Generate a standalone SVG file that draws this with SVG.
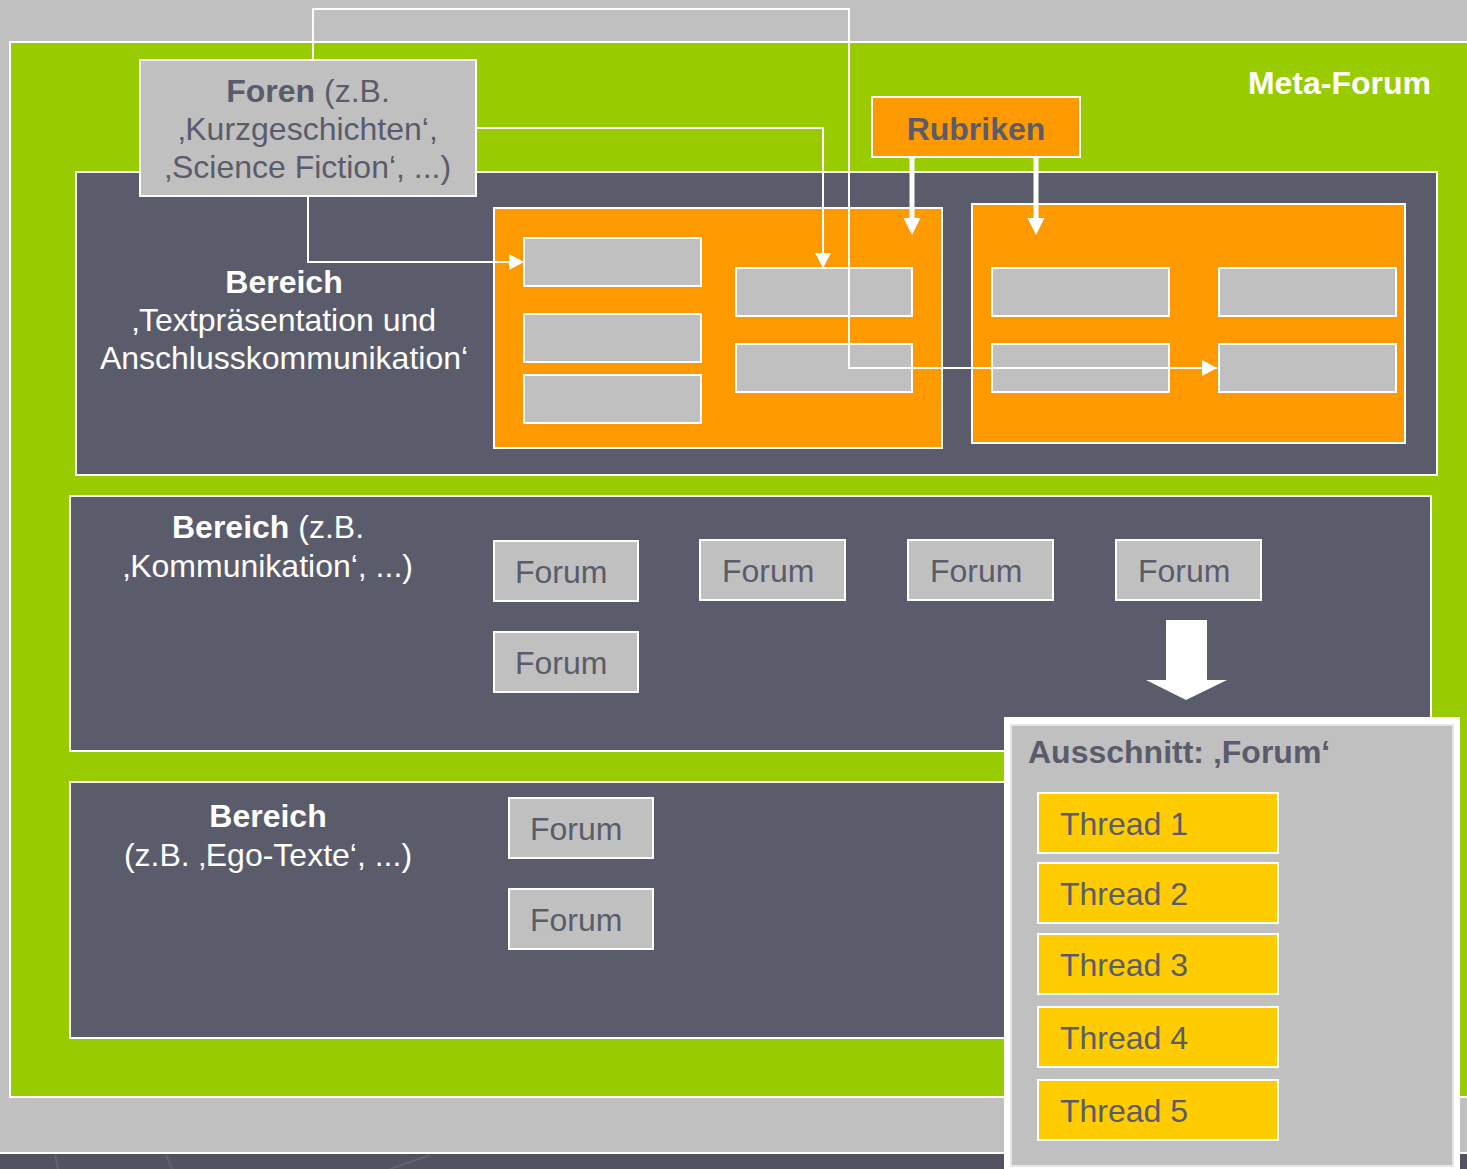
<svg xmlns="http://www.w3.org/2000/svg" width="1467" height="1169" viewBox="0 0 1467 1169">
<style>
.panel{fill:#5b5c6b;stroke:#fff;stroke-width:2}
.org{fill:#ff9900;stroke:#fff;stroke-width:2}
.gbox{fill:#c0c0c0;stroke:#fff;stroke-width:2}
.tbox{fill:#ffcc00;stroke:#fff;stroke-width:2}
.conn{fill:none;stroke:#fff;stroke-width:2}
text{font-family:"Liberation Sans",Arial,sans-serif;font-size:32px}
.dk{fill:#5b5c6b}
.wt{fill:#fff}
.b{font-weight:bold}
.c{text-anchor:middle}
</style>
<defs>
<marker id="ah" markerUnits="userSpaceOnUse" markerWidth="16" markerHeight="16" refX="15" refY="8" orient="auto">
<path d="M0,0 L15,8 L0,16 z" fill="#fff"/>
</marker>
</defs>
<rect x="0" y="0" width="1467" height="1169" fill="#c0c0c0"/>
<rect x="0" y="1153" width="1467" height="16" fill="#52535f"/>
<line x1="0" y1="1153" x2="1467" y2="1153" stroke="#fff" stroke-width="2"/>
<g stroke="#62636f" stroke-width="2" fill="none">
<path d="M55,1155 L58,1169"/>
<path d="M166,1155 L172,1169"/>
<path d="M390,1169 L430,1155"/>
</g>
<g id="meta-forum">
<rect x="10" y="42" width="1470" height="1055" fill="#99cc00" stroke="#fff" stroke-width="2"/>
<text x="1431" y="94" class="wt b" text-anchor="end">Meta-Forum</text>
</g>
<g id="bereich1">
<rect x="76" y="172" width="1361" height="303" class="panel"/>
<text x="284" y="293" class="wt b c">Bereich</text>
<text x="284" y="331" class="wt c">‚Textpräsentation und</text>
<text x="284" y="369" class="wt c">Anschlusskommunikation‘</text>
</g>
<g id="rubrik1">
<rect x="494" y="208" width="448" height="240" class="org"/>
<rect x="524" y="238" width="177" height="48" class="gbox"/>
<rect x="524" y="314" width="177" height="48" class="gbox"/>
<rect x="524" y="375" width="177" height="48" class="gbox"/>
<rect x="736" y="268" width="176" height="48" class="gbox"/>
<rect x="736" y="344" width="176" height="48" class="gbox"/>
</g>
<g id="rubrik2">
<rect x="972" y="204" width="433" height="239" class="org"/>
<rect x="992" y="268" width="177" height="48" class="gbox"/>
<rect x="1219" y="268" width="177" height="48" class="gbox"/>
<rect x="992" y="344" width="177" height="48" class="gbox"/>
<rect x="1219" y="344" width="177" height="48" class="gbox"/>
</g>
<g id="bereich2">
<rect x="70" y="496" width="1361" height="255" class="panel"/>
<text x="268" y="538" class="wt c"><tspan class="b">Bereich</tspan> (z.B.</text>
<text x="268" y="577" class="wt c">‚Kommunikation‘, ...)</text>
<rect x="494" y="541" width="144" height="60" class="gbox"/>
<text x="515" y="583" class="dk">Forum</text>
<rect x="700" y="540" width="145" height="60" class="gbox"/>
<text x="722" y="582" class="dk">Forum</text>
<rect x="908" y="540" width="145" height="60" class="gbox"/>
<text x="930" y="582" class="dk">Forum</text>
<rect x="1116" y="540" width="145" height="60" class="gbox"/>
<text x="1138" y="582" class="dk">Forum</text>
<rect x="494" y="632" width="144" height="60" class="gbox"/>
<text x="515" y="674" class="dk">Forum</text>
</g>
<g id="bereich3">
<rect x="70" y="782" width="1361" height="256" class="panel"/>
<text x="268" y="827" class="wt b c">Bereich</text>
<text x="268" y="866" class="wt c">(z.B. ‚Ego-Texte‘, ...)</text>
<rect x="509" y="798" width="144" height="60" class="gbox"/>
<text x="530" y="840" class="dk">Forum</text>
<rect x="509" y="889" width="144" height="60" class="gbox"/>
<text x="530" y="931" class="dk">Forum</text>
</g>
<g id="foren">
<rect x="140" y="60" width="336" height="136" class="gbox"/>
<text x="308" y="102" class="dk c"><tspan class="b">Foren</tspan> (z.B.</text>
<text x="308" y="140" class="dk c">‚Kurzgeschichten‘,</text>
<text x="308" y="178" class="dk c">‚Science Fiction‘, ...)</text>
</g>
<g id="rubriken">
<rect x="872" y="97" width="208" height="60" class="org"/>
<text x="976" y="140" class="dk b c">Rubriken</text>
</g>
<g id="connectors">
<path d="M313,59 V9 H849 V368 H1217" class="conn" marker-end="url(#ah)"/>
<path d="M477,128 H823 V268" class="conn" marker-end="url(#ah)"/>
<path d="M308,197 V262 H524" class="conn" marker-end="url(#ah)"/>
<path d="M909.5,158 V218 H903.5 L912,235 L920.5,218 H914.5 V158 z" fill="#fff"/>
<path d="M1033.5,158 V218 H1027.5 L1036,235 L1044.5,218 H1038.5 V158 z" fill="#fff"/>
<path d="M1166,620 H1207 V680 H1227 L1186,700 L1146,680 H1166 z" fill="#fff"/>
</g>
<g id="ausschnitt">
<rect x="1004" y="717" width="456" height="460" fill="#fff"/>
<rect x="1011" y="725" width="442" height="441" fill="#c0c0c0" stroke="#e6e6e6" stroke-width="2"/>
<text x="1028" y="763" class="dk b">Ausschnitt: ‚Forum‘</text>
<rect x="1038" y="793" width="240" height="60" class="tbox"/>
<text x="1060" y="835" class="dk">Thread 1</text>
<rect x="1038" y="863" width="240" height="60" class="tbox"/>
<text x="1060" y="905" class="dk">Thread 2</text>
<rect x="1038" y="934" width="240" height="60" class="tbox"/>
<text x="1060" y="976" class="dk">Thread 3</text>
<rect x="1038" y="1007" width="240" height="60" class="tbox"/>
<text x="1060" y="1049" class="dk">Thread 4</text>
<rect x="1038" y="1080" width="240" height="60" class="tbox"/>
<text x="1060" y="1122" class="dk">Thread 5</text>
</g>
</svg>
